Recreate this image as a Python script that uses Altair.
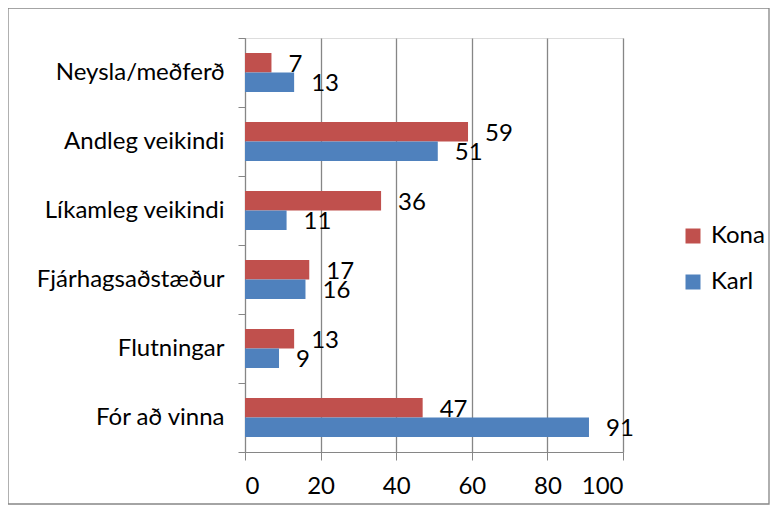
import altair as alt
import pandas as pd

categories = ["Neysla/meðferð", "Andleg veikindi", "Líkamleg veikindi",
              "Fjárhagsaðstæður", "Flutningar", "Fór að vinna"]
series = ["Kona", "Karl"]
kona = [7, 59, 36, 17, 13, 47]
karl = [13, 51, 11, 16, 9, 91]
colors = ["#C0504D", "#4F81BD"]
x_ticks = [0, 20, 40, 60, 80, 100]

rows = []
for c, k, m in zip(categories, kona, karl):
    rows.append({"cat": c, "series": "Kona", "value": k})
    rows.append({"cat": c, "series": "Karl", "value": m})
df = pd.DataFrame(rows)

FONT = "Lato"
FS = 24
W, H = 378, 414
PL, PT, PR, PB = 237, 30, 147, 53

y_enc = alt.Y("cat:N", sort=categories,
              scale=alt.Scale(paddingInner=0, paddingOuter=0),
              axis=alt.Axis(title=None, tickBand="extent", grid=False,
                            labelFontSize=FS, labelFont=FONT, labelColor="#000000",
                            labelPadding=14, tickSize=7, tickColor="#868686",
                            domainColor="#868686", labelLimit=300))
yoff = alt.YOffset("series:N", sort=series,
                   scale=alt.Scale(paddingInner=0, paddingOuter=0.77))
x_enc = alt.X("value:Q", scale=alt.Scale(domain=[0, 100]),
              axis=alt.Axis(title=None, values=x_ticks, grid=True,
                            gridColor="#868686", gridWidth=1.3,
                            labelFontSize=FS, labelFont=FONT, labelColor="#000000",
                            labelPadding=14, tickSize=8, tickColor="#868686",
                            domainColor="#868686"))

bars = alt.Chart(df).mark_bar(stroke=None).encode(
    y=y_enc, yOffset=yoff, x=x_enc,
    color=alt.Color("series:N", sort=series,
                    scale=alt.Scale(domain=series, range=colors),
                    legend=alt.Legend(title=None, orient="none", legendX=436, legendY=186,
                                      symbolType="square", symbolSize=225,
                                      symbolStrokeWidth=0, labelFontSize=FS,
                                      labelFont=FONT, labelColor="#000000",
                                      rowPadding=22, labelOffset=6)))

labels = alt.Chart(df).mark_text(align="left", baseline="middle", dx=17, dy=2,
                                 fontSize=FS, font=FONT, color="#000000").encode(
    y=alt.Y("cat:N", sort=categories), yOffset=alt.YOffset("series:N", sort=series),
    x="value:Q", text="value:Q")

border = alt.Chart(pd.DataFrame({"a": [0]})).mark_rect(
    fill=None, stroke="#868686", strokeWidth=1.3, clip=False).encode(
    x=alt.value(-PL), x2=alt.value(W + PR - 1),
    y=alt.value(-PT), y2=alt.value(H + PB - 1))

chart = alt.layer(border, bars, labels).properties(
    width=W, height=H,
    autosize=alt.AutoSizeParams(type="none"),
    padding={"left": PL, "top": PT, "right": PR, "bottom": PB},
).configure_view(stroke=None).configure(background="white")

chart.save("out.html", embed_options={"renderer": "svg", "actions": False})
